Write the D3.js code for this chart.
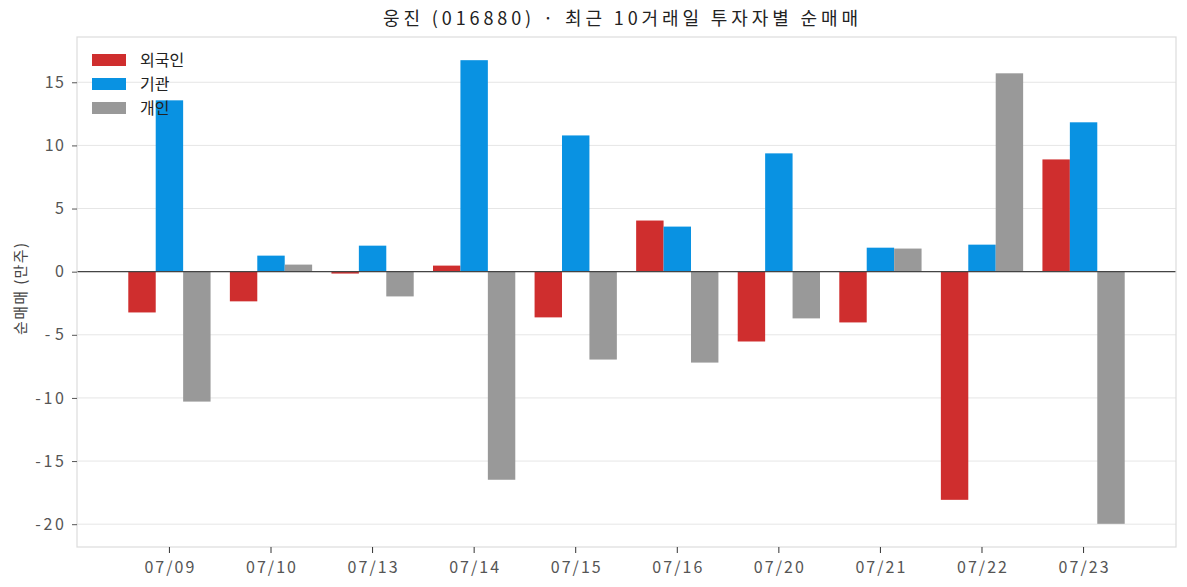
<!DOCTYPE html>
<html><head><meta charset="utf-8">
<script src="https://cdn.jsdelivr.net/npm/d3@7"></script>
<style>body{margin:0;background:#fff}svg{display:block}text{font-family:"Noto Sans CJK KR","Noto Sans",sans-serif}</style>
</head><body><svg id="c" width="1187" height="587"></svg>
<script>
const dates = ["07/09","07/10","07/13","07/14","07/15","07/16","07/20","07/21","07/22","07/23"];
const seriesNames = ["외국인","기관","개인"];
const foreign = [-3.23,-2.35,-0.15,0.48,-3.62,4.05,-5.53,-4.02,-18.07,8.89];
const inst = [13.57,1.27,2.06,16.75,10.79,3.57,9.37,1.90,2.14,11.83];
const indiv = [-10.29,0.56,-1.96,-16.48,-6.96,-7.20,-3.70,1.83,15.71,-19.97];
const yTicks = [-20,-15,-10,-5,0,5,10,15];
const colors = ["#cf2e2e","#0992e2","#999999"];
const title = "웅진 (016880) · 최근 10거래일 투자자별 순매매";
const yLabel = "순매매 (만주)";

const svg = d3.select("#c");
const L=77,R=1176,T=37,B=547;
const series=[foreign,inst,indiv];
const allv=series.flat();
const mn=d3.min(allv),mx=d3.max(allv),pad=(mx-mn)*0.05;
const y=d3.scaleLinear().domain([mn-pad,mx+pad]).range([B,T]);
const x=d3.scaleBand().domain(dates).range([L,R]).paddingInner(0.19).paddingOuter(0.505);
const xs=d3.scaleBand().domain(seriesNames).range([0,x.bandwidth()]);

// grid
svg.append("g").selectAll("line").data(yTicks).join("line")
 .attr("x1",L).attr("x2",R).attr("y1",d=>y(d)).attr("y2",d=>y(d))
 .attr("stroke","#e6e6e6").attr("stroke-width",1);

// bars
seriesNames.forEach((s,si)=>{
 svg.append("g").selectAll("rect").data(dates).join("rect")
  .attr("x",d=>x(d)+xs(s)).attr("width",xs.bandwidth())
  .attr("y",(d,i)=>y(Math.max(0,series[si][i])))
  .attr("height",(d,i)=>Math.abs(y(series[si][i])-y(0)))
  .attr("fill",colors[si]);
});
// zero line
svg.append("line").attr("x1",L).attr("x2",R).attr("y1",y(0)).attr("y2",y(0)).attr("stroke","#444").attr("stroke-width",1.2);

// frame
svg.append("rect").attr("x",L).attr("y",T).attr("width",R-L).attr("height",B-T).attr("fill","none").attr("stroke","#dcdcdc").attr("stroke-width",1.2);

// axes
const ya=svg.append("g").attr("transform",`translate(${L},0)`).call(d3.axisLeft(y).tickValues(yTicks).tickSize(5).tickPadding(8).tickFormat(d=>String(d)));
ya.select(".domain").remove();
ya.selectAll("line").attr("stroke","#555");
ya.selectAll("text").attr("fill","#555").style("font-size","16px")
  .attr("textLength",d=>String(d).length*9.6).attr("lengthAdjust","spacing");
const xa=svg.append("g").attr("transform",`translate(0,${B})`).call(d3.axisBottom(x).tickSize(6).tickPadding(9));
xa.select(".domain").remove();
xa.selectAll("line").attr("stroke","#333");
xa.selectAll("text").attr("fill","#555").style("font-size","16px").attr("textLength",50).attr("lengthAdjust","spacing");

// title
svg.append("text").attr("x",620.5).attr("y",25).attr("text-anchor","middle").attr("fill","#222").style("font-size","18px")
 .attr("textLength",475).attr("lengthAdjust","spacing").text(title);
// y label
svg.append("text").attr("transform",`translate(26,289) rotate(-90)`).attr("text-anchor","middle").attr("fill","#444").style("font-size","15px")
 .attr("textLength",92).attr("lengthAdjust","spacing").text(yLabel);

// legend
const lg=svg.append("g").attr("transform","translate(92,54)");
seriesNames.forEach((s,i)=>{
 lg.append("rect").attr("x",0).attr("y",i*24).attr("width",34).attr("height",12).attr("fill",colors[i]);
 lg.append("text").attr("x",48).attr("y",i*24+6).attr("dy","0.35em").attr("fill","#222").style("font-size","16px").text(s);
});
</script></body></html>
